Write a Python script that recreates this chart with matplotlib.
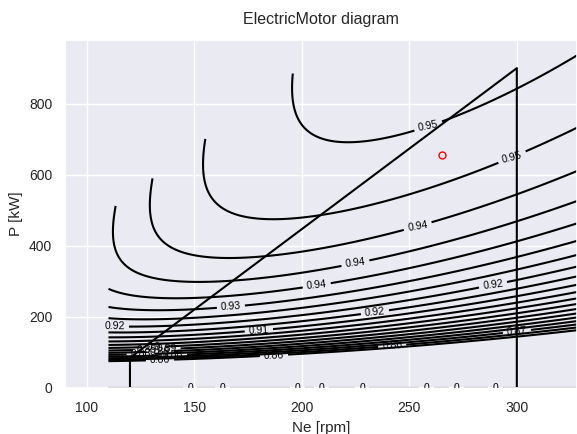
import numpy as np
import matplotlib.pyplot as plt
import seaborn as sns

# operating envelope of the motor (speed [rpm], power [kW])
envelope_ne = [120, 120, 300, 300]
envelope_p = [0, 85, 900, 0]

# operating point
point_ne = [265]
point_p = [655]

# loss model of the motor (kW)
loss_const = 11.0       # constant losses
loss_speed = -0.02149   # * n
loss_speed2 = 1.858e-4  # * n^2
loss_prop = 0.0142      # * P
loss_torque = 0.69      # * (P/n)^2 (copper)
loss_power = 1.43e-6    # * P^2

# map range: speed and max power per rpm (torque limit)
ne_min, ne_max = 110, 331
p_per_ne_max = 4.52

levels = list(np.round(np.arange(0.86, 0.956, 0.005), 3))

# where the contour labels sit (Ne, P)
label_spots = [
    (259, 725), (298, 640), (254, 449), (225, 343), (207, 281),
    (167, 222), (289, 284), (113, 183), (234, 211), (180, 160),
    (134, 73), (125, 95), (128, 105), (131, 112), (134, 100),
    (137, 108), (140, 95), (187, 93), (242, 121), (300, 163),
]
# where the "0" labels sit along the P = 0 edge
zero_label_ne = [148, 163, 198, 209, 228, 258, 272, 290]


def efficiency_map():
    ne = np.linspace(ne_min, ne_max, 400)
    ratio = np.linspace(0, p_per_ne_max, 400)
    NE, R = np.meshgrid(ne, ratio)
    P = NE * R
    losses = (loss_const + loss_speed * NE + loss_speed2 * NE**2
              + loss_prop * P + loss_torque * R**2 + loss_power * P**2)
    eta = P / (P + losses)
    return NE, P, eta


def plot_map():
    NE, P, eta = efficiency_map()

    fig = plt.figure(figsize=(5.77, 4.34), dpi=100)
    ax = fig.add_axes([0.1135, 0.106, 0.8865, 0.8025])

    cs = ax.contour(NE, P, eta, levels=levels, colors="black", linewidths=1.5)
    ax.clabel(cs, inline=True, fmt="%.2g", fontsize=7.5, manual=label_spots)

    cs0 = ax.contour(NE, P, eta, levels=[0.0], colors="black", linewidths=1.5)
    ax.clabel(cs0, inline=True, fmt="%.2g", fontsize=7.5,
              manual=[(x, 0) for x in zero_label_ne])

    ax.plot(envelope_ne, envelope_p, color="black", lw=1.5)
    ax.plot(point_ne, point_p, "o", mfc="none", mec="red", ms=5, mew=1)

    ax.set_xlim(90, 328)
    ax.set_ylim(0, 980)
    ax.set_xlabel("Ne [rpm]", fontsize=11)
    ax.set_ylabel("P [kW]", fontsize=11)
    ax.set_title("ElectricMotor diagram", fontsize=11.5, pad=11)
    ax.tick_params(labelsize=10)

    fig.savefig("out.png", dpi=100)


def main():
    sns.set_theme()
    plt.rcParams["font.family"] = ["Liberation Sans", "DejaVu Sans"]
    plot_map()


if __name__ == "__main__":
    main()
